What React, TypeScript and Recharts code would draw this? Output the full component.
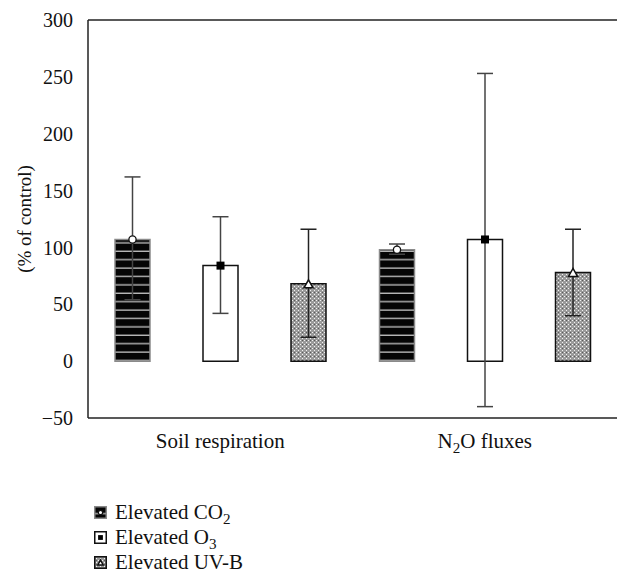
import React from 'react';
import { Bar, BarChart, ErrorBar, Legend, ReferenceLine, XAxis, YAxis } from 'recharts';

// categories and series values (% of control)
const categories = ['Soil respiration', 'N2O fluxes'];
const co2Mean = [107, 98];
const co2Low = [54, 94];
const co2High = [162, 103];
const o3Mean = [84, 107];
const o3Low = [42, -40];
const o3High = [127, 253];
const uvbMean = [68, 78];
const uvbLow = [21, 40];
const uvbHigh = [116, 116];
const yTicks = [-50, 0, 50, 100, 150, 200, 250, 300];
const seriesNames = ['Elevated CO2', 'Elevated O3', 'Elevated UV-B'];

const data = categories.map((name, i) => ({
  name,
  co2: co2Mean[i],
  co2Err: [co2Mean[i] - co2Low[i], co2High[i] - co2Mean[i]],
  o3: o3Mean[i],
  o3Err: [o3Mean[i] - o3Low[i], o3High[i] - o3Mean[i]],
  uvb: uvbMean[i],
  uvbErr: [uvbMean[i] - uvbLow[i], uvbHigh[i] - uvbMean[i]],
}));

const FONT = '"Liberation Serif", "DejaVu Serif", serif';
const INK = '#222';

// "N2O" -> N<sub>2</sub>O inside svg text
const svgSubs = (text: string) => {
  const parts = text.split(/(\d)/);
  return parts.map((p, i) => {
    if (/\d/.test(p)) {
      return (
        <tspan key={i} dy={5} fontSize="0.72em">
          {p}
        </tspan>
      );
    }
    const back = i > 0 && /\d/.test(parts[i - 1]);
    return back ? (
      <tspan key={i} dy={-5}>
        {p}
      </tspan>
    ) : (
      <tspan key={i}>{p}</tspan>
    );
  });
};

const htmlSubs = (text: string) =>
  text.split(/(\d)/).map((p, i) =>
    /\d/.test(p) ? (
      <sub key={i} style={{ fontSize: '0.72em', verticalAlign: '-0.3em', lineHeight: 0 }}>
        {p}
      </sub>
    ) : (
      <span key={i}>{p}</span>
    ),
  );

type MarkerKind = 'circle' | 'square' | 'triangle';

const drawMarker = (kind: MarkerKind, cx: number, cy: number, s = 1) => {
  if (kind === 'circle') {
    return <circle cx={cx} cy={cy} r={3.6 * s} fill="#fff" stroke="#111" strokeWidth={1.3} />;
  }
  if (kind === 'square') {
    return <rect x={cx - 4 * s} y={cy - 4 * s} width={8 * s} height={8 * s} fill="#000" />;
  }
  const h = 8 * s;
  const w = 9 * s;
  return (
    <polygon
      points={`${cx},${cy - h / 2} ${cx + w / 2},${cy + h / 2} ${cx - w / 2},${cy + h / 2}`}
      fill="#fff"
      stroke="#111"
      strokeWidth={1.5}
    />
  );
};

const markerLabel = (kind: MarkerKind) => (props: any) => {
  const cx = Number(props.x) + Number(props.width) / 2;
  const cy = Number(props.y);
  return <g>{drawMarker(kind, cx, cy)}</g>;
};

const XTick = (props: any) => {
  const { x, y, payload } = props;
  return (
    <text x={x} y={Number(y) + 22} textAnchor="middle" fontSize={21} fontFamily={FONT} fill="#111">
      {svgSubs(String(payload.value))}
    </text>
  );
};

const YLabel = (props: any) => {
  const vb = props.viewBox || {};
  const cy = Number(vb.y) + Number(vb.height) / 2;
  const cx = 24;
  return (
    <text
      x={cx}
      y={cy}
      transform={`rotate(-90, ${cx}, ${cy})`}
      textAnchor="middle"
      dominantBaseline="central"
      fontSize={19}
      fontFamily={FONT}
      fill="#111"
    >
      (% of control)
    </text>
  );
};

const legendFills = ['url(#stripes)', '#fff', 'url(#mesh)'];
const legendStrokes = ['#888', '#111', '#111'];
const legendMarkers: MarkerKind[] = ['circle', 'square', 'triangle'];

const LegendBox = () => (
  <div style={{ fontFamily: FONT, fontSize: 21, color: '#111' }}>
    {seriesNames.map((name, i) => (
      <div key={name} style={{ display: 'flex', alignItems: 'center', height: 25 }}>
        <svg width={13} height={13} style={{ marginRight: 8 }}>
          <rect x={0.75} y={0.75} width={11.5} height={11.5} fill={legendFills[i]} stroke={legendStrokes[i]} strokeWidth={1.5} />
          {drawMarker(legendMarkers[i], 6.5, 6.5, 0.6)}
        </svg>
        <span>{htmlSubs(name)}</span>
      </div>
    ))}
  </div>
);

export default function App() {
  return (
    <div
      style={{
        position: 'absolute',
        left: 0,
        top: 0,
        width: 617,
        height: 573,
        overflow: 'hidden',
        background: '#fff',
        fontFamily: FONT,
      }}
    >
      <BarChart
        width={630}
        height={573}
        data={data}
        margin={{ top: 20, right: 8, bottom: 125, left: 0 }}
        barSize={35}
        barGap={53}
      >
        <defs>
          <pattern id="stripes" patternUnits="userSpaceOnUse" width={8} height={8.4}>
            <rect width={8} height={8.4} fill="#050505" />
            <rect y={7} width={8} height={1.4} fill="#b8b8b8" />
          </pattern>
          <pattern id="mesh" patternUnits="userSpaceOnUse" width={4} height={4}>
            <rect width={4} height={4} fill="#9a9a9a" />
            <rect x={0} y={0} width={1} height={1} fill="#f2f2f2" />
            <rect x={2} y={2} width={1} height={1} fill="#f2f2f2" />
            <rect x={2} y={0} width={1} height={1} fill="#5a5a5a" />
          </pattern>
        </defs>
        <XAxis
          dataKey="name"
          tick={<XTick />}
          tickLine={false}
          axisLine={{ stroke: INK, strokeWidth: 1.5 }}
          interval={0}
          height={30}
          padding={{ left: 0, right: 5 }}
        />
        <YAxis
          domain={[-50, 300]}
          ticks={yTicks}
          width={88}
          tickLine={false}
          tickMargin={9}
          axisLine={{ stroke: INK, strokeWidth: 1.5 }}
          tick={{ fill: '#111', fontSize: 20, fontFamily: FONT }}
          tickFormatter={(v: number) => (v < 0 ? `\u2212${Math.abs(v)}` : String(v))}
          label={<YLabel />}
        />
        <ReferenceLine y={300} stroke={INK} strokeWidth={1.5} />
        <Bar
          dataKey="co2"
          name={seriesNames[0]}
          fill="url(#stripes)"
          stroke="#8a8a8a"
          strokeWidth={1.5}
          isAnimationActive={false}
          label={markerLabel('circle')}
        >
          <ErrorBar dataKey="co2Err" width={8} stroke="#444" strokeWidth={1.5} isAnimationActive={false} />
        </Bar>
        <Bar
          dataKey="o3"
          name={seriesNames[1]}
          fill="#fff"
          stroke="#111"
          strokeWidth={1.5}
          isAnimationActive={false}
          label={markerLabel('square')}
        >
          <ErrorBar dataKey="o3Err" width={8} stroke="#444" strokeWidth={1.5} isAnimationActive={false} />
        </Bar>
        <Bar
          dataKey="uvb"
          name={seriesNames[2]}
          fill="url(#mesh)"
          stroke="#111"
          strokeWidth={1.5}
          isAnimationActive={false}
          label={markerLabel('triangle')}
        >
          <ErrorBar dataKey="uvbErr" width={8} stroke="#222" strokeWidth={1.5} isAnimationActive={false} />
        </Bar>
        <Legend
          layout="vertical"
          align="center"
          verticalAlign="middle"
          content={<LegendBox />}
          wrapperStyle={{ left: 94, top: 500, width: 260 }}
        />
      </BarChart>
    </div>
  );
}
